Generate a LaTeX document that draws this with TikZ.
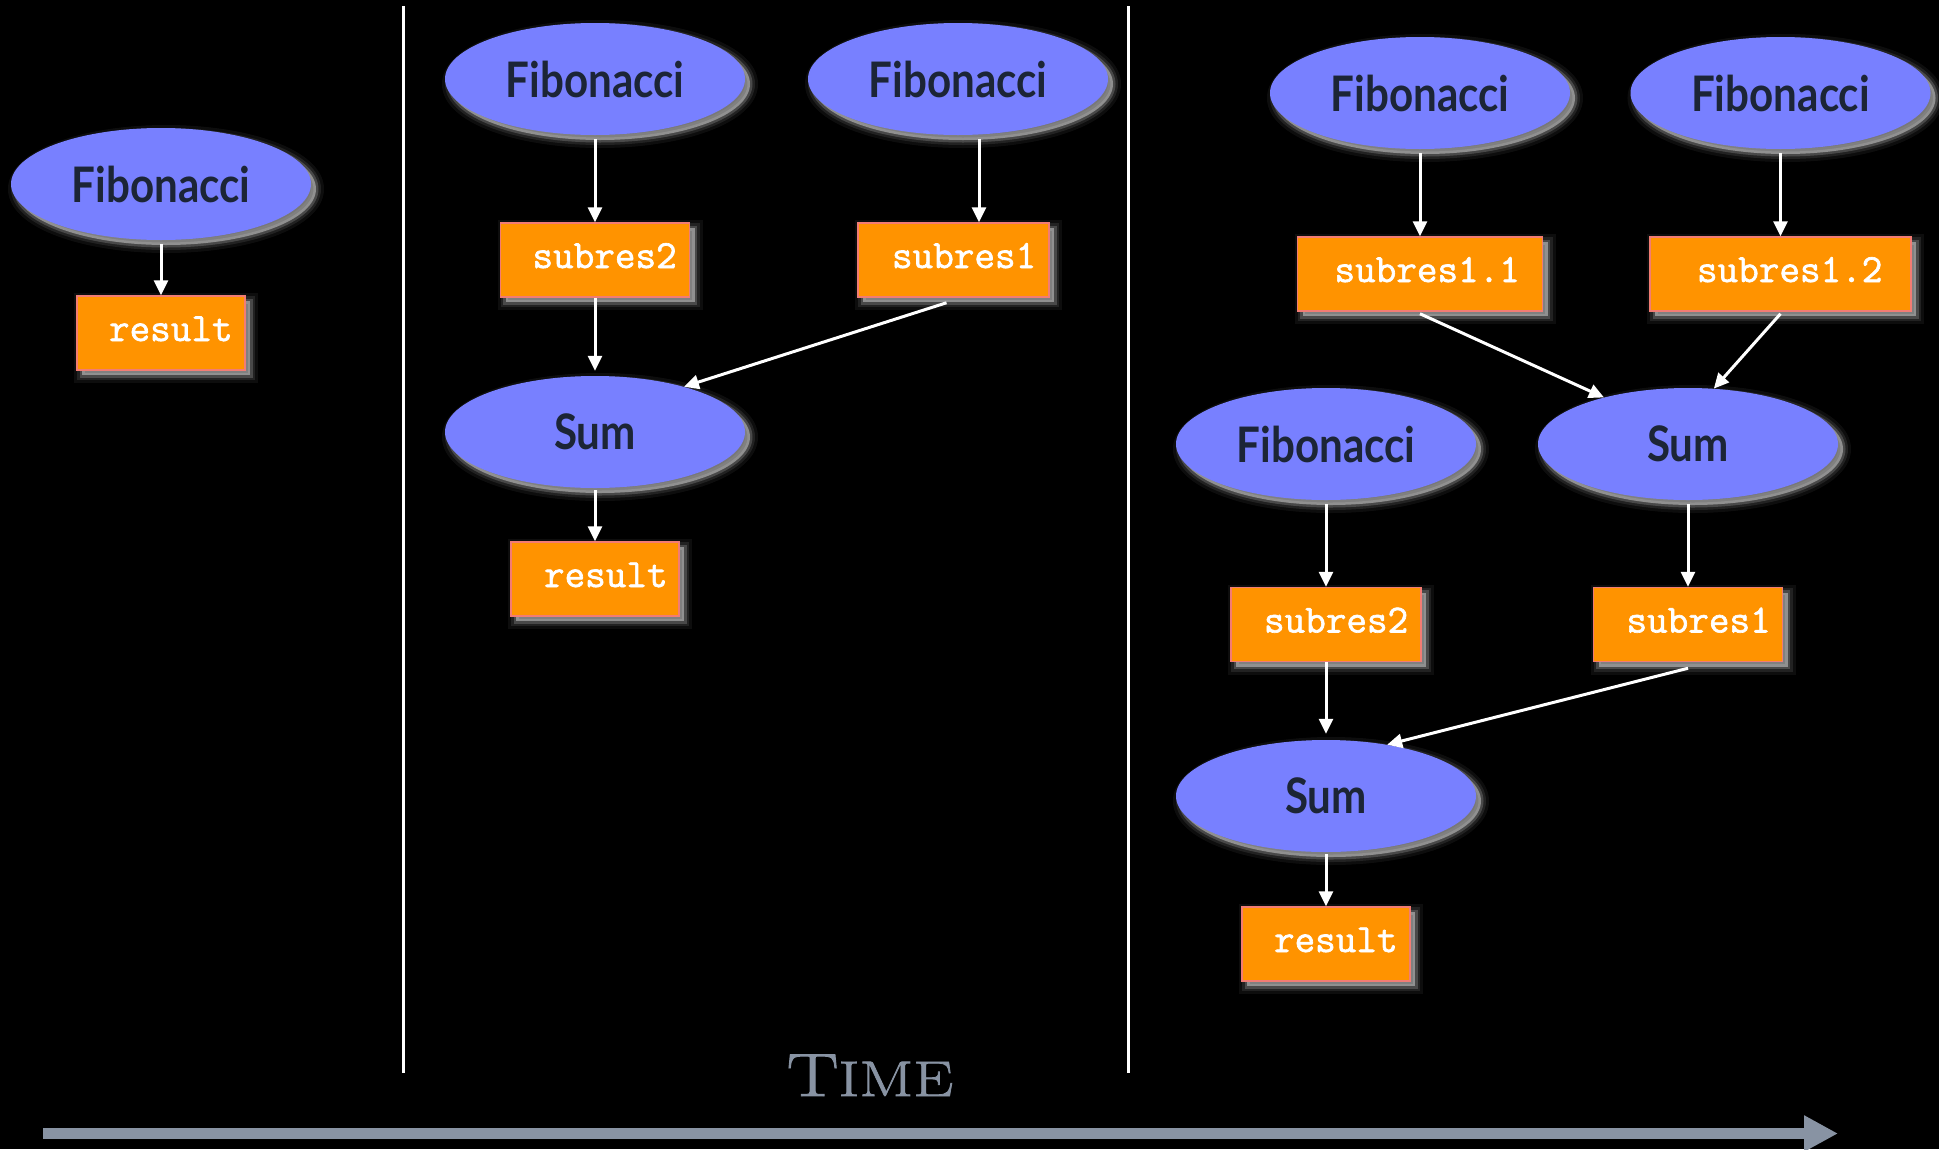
\documentclass[tikz,border=0pt]{standalone}
\usepackage{fontspec}
\usetikzlibrary{arrows.meta,shapes.geometric,shadows,calc}
\newfontfamily\ellfont[FakeStretch=0.86]{Lato}
\newfontfamily\boxfont[FakeBold=1.6]{Latin Modern Mono}
\newfontfamily\timefont[FakeStretch=1.27, FakeBold=1.5]{Latin Modern Roman}
\definecolor{ellfill}{HTML}{7880FF}
\definecolor{elltext}{HTML}{1C2536}
\definecolor{boxfill}{HTML}{FF9300}
\definecolor{boxline}{HTML}{F27C74}
\definecolor{timegray}{HTML}{8893A3}
\definecolor{glowc}{HTML}{C0C0C0}
\tikzset{
  glow/.style={
    general shadow={shadow xshift=5pt, shadow yshift=-5pt, draw=glowc, line width=16pt, draw opacity=0.07, fill=glowc, fill opacity=0.6},
    general shadow={shadow xshift=5pt, shadow yshift=-5pt, draw=glowc, line width=10pt, draw opacity=0.12},
    general shadow={shadow xshift=5pt, shadow yshift=-5pt, draw=glowc, line width=5pt, draw opacity=0.25}},
  proc/.style={ellipse, glow, fill=ellfill, minimum width=300pt, minimum height=112pt, inner sep=0pt,
    text=elltext, font=\ellfont\bfseries\fontsize{49}{49}\selectfont},
  datum/.style={rectangle, glow, fill=boxfill, draw=boxline, line width=1.5pt, minimum height=74pt,
    inner sep=0pt, text=white, font=\boxfont\fontsize{40}{40}\selectfont, align=left,
    text height=16pt, text depth=0pt},
  arr/.style={draw=white, line width=3pt, -{Triangle[length=15pt,width=14pt]}},
  sep/.style={draw=white, line width=3pt},
}
\begin{document}
\begin{tikzpicture}[x=1pt,y=-1pt]
\fill[black] (0,0) rectangle (1939,1149);
\useasboundingbox (0,0) rectangle (1939,1149);
% separators
\coordinate (v1a) at (403,6); \coordinate (v1b) at (403,1073);
\coordinate (v2a) at (1128,6); \coordinate (v2b) at (1128,1073);
\draw[sep] (v1a) -- (v1b);
\draw[sep] (v2a) -- (v2b);
% column 1
\node[proc] (f1) at (161,184) {Fibonacci};
\node[datum, text width=168pt] (r1) at (161,333) {\hspace*{32pt}result};
\draw[arr] ($(f1.south)+(0,4)$) -- (r1.north);
% column 2
\node[proc] (fL) at (595,79) {Fibonacci};
\node[proc] (fR) at (958,79) {Fibonacci};
\node[datum, text width=189pt] (s2a) at (595,260) {\hspace*{32pt}subres2};
\node[datum, text width=191pt] (s1a) at (953.5,260) {\hspace*{34pt}subres1};
\node[proc] (sumA) at (595,432) {Sum};
\node[datum, text width=168pt] (r2) at (595,579) {\hspace*{33pt}result};
\draw[arr] ($(fL.south)+(0,4)$) -- (s2a.north);
\draw[arr] ($(fR.south)+(21,4)$) -- ($(s1a.north)+(25.5,0)$);
\draw[arr] (s2a.south) -- ($(sumA.north)+(0,-5)$);
\draw[arr] ($(s1a.south)+(-7,5)$) -- (sumA.27);
\draw[arr] ($(sumA.south)+(0,2)$) -- (r2.north);
% column 3
\node[proc] (fA) at (1420,93) {Fibonacci};
\node[proc] (fB) at (1780.5,93) {Fibonacci};
\node[datum, text width=245pt] (s11) at (1420,274) {\hspace*{37pt}subres1.1};
\node[datum, text width=261pt] (s12) at (1780.5,274) {\hspace*{47pt}subres1.2};
\node[proc] (fC) at (1326,444) {Fibonacci};
\node[proc] (sumB) at (1688,444) {Sum};
\node[datum, text width=190pt] (s2b) at (1326,624.5) {\hspace*{33pt}subres2};
\node[datum, text width=189pt] (s1b) at (1688,624.5) {\hspace*{33pt}subres1};
\node[proc] (sumC) at (1326,796) {Sum};
\node[datum, text width=168pt] (r3) at (1326,944) {\hspace*{32pt}result};
\draw[arr] ($(fA.south)+(0,4)$) -- (s11.north);
\draw[arr] ($(fB.south)+(0,4)$) -- (s12.north);
\draw[arr] ($(s11.south)+(0,2)$) -- (sumB.151);
\draw[arr] ($(s12.south)+(0,2)$) -- (sumB.65);
\draw[arr] ($(fC.south)+(0,4)$) -- (s2b.north);
\draw[arr] ($(sumB.south)+(0,4)$) -- (s1b.north);
\draw[arr] (s2b.south) -- ($(sumC.north)+(0,-6)$);
\draw[arr] ($(s1b.south)+(0,6)$) -- (sumC.40);
\draw[arr] ($(sumC.south)+(0,2)$) -- (r3.north);
% time
\node[anchor=base, text=timegray, font=\timefont, inner sep=0pt] (time) at (870,1096) {{\fontsize{61}{61}\selectfont T}{\fontsize{50}{50}\selectfont IME}};
\coordinate (ta) at (43,1133.5);
\coordinate (tb) at (1838,1133.5);
\draw[draw=timegray, line width=11.5pt, -{Triangle[length=34pt,width=34pt]}] (ta) -- (tb);
\end{tikzpicture}
\end{document}
